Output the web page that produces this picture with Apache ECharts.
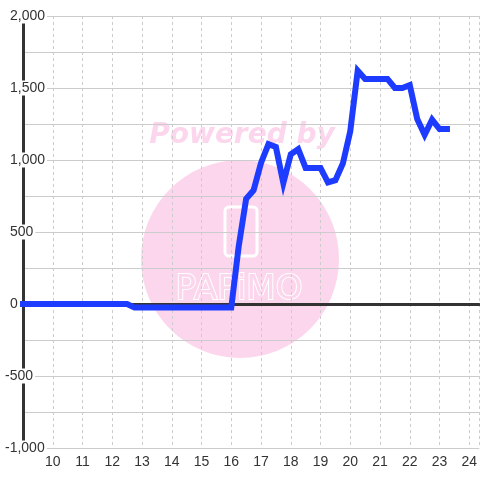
<!DOCTYPE html>
<html>
<head>
<meta charset="utf-8">
<script src="https://cdn.jsdelivr.net/npm/echarts@6/dist/echarts.min.js"></script>
<style>html,body{margin:0;padding:0;background:#fff;}#c{width:480px;height:480px;}</style>
</head>
<body>
<div id="c"></div>
<script>
// Data: one point every 15 minutes from 9:00 to 23:15
var startHour = 9;
var stepHour = 0.25;
var values = [
  0, 0, 0, 0, 0, 0, 0, 0, 0, 0, 0, 0, 0, 0, 0,
  -25, -25, -25, -25, -25, -25, -25, -25, -25, -25, -25, -25, -25, -25,
  400, 730, 790, 980, 1110, 1090, 840, 1040, 1075, 945, 945, 945, 845, 860,
  975, 1200, 1620, 1563, 1563, 1563, 1563, 1500, 1500, 1520, 1285, 1175, 1280, 1215, 1215
];
var xTickLabels = [10, 11, 12, 13, 14, 15, 16, 17, 18, 19, 20, 21, 22, 23, 24];
var yPosLabels = [0, 500, 1000, 1500, 2000];
var yNegLabels = [-500, -1000];

var seriesData = values.map(function (v, i) { return [startHour + i * stepHour, v]; });
function fmt(v) { return Number(v).toLocaleString('en-US'); }

var chart = echarts.init(document.getElementById('c'));
var labelFont = { fontFamily: 'Liberation Sans', fontSize: 14, color: '#333' };
chart.setOption({
  animation: false,
  backgroundColor: '#fff',
  grid: { left: 20, right: 0, top: 16, bottom: 32 },
  xAxis: [
    {
      type: 'value', min: 9, max: 24 + 1 / 3, position: 'bottom', z: 2,
      axisLine: { show: true, onZero: true, lineStyle: { color: '#333', width: 3 } },
      axisTick: { show: false }, axisLabel: { show: false }, splitLine: { show: false }
    },
    {
      type: 'value', min: 9, max: 24 + 1 / 3, interval: 1, position: 'bottom',
      axisLine: { show: false }, axisTick: { show: false },
      axisLabel: Object.assign({ customValues: xTickLabels, margin: 7 }, labelFont),
      splitLine: { show: true, lineStyle: { color: '#ccc', type: [3, 3], width: 1 } }
    }
  ],
  yAxis: [
    {
      type: 'value', min: -1000, max: 2000, interval: 250, position: 'left', z: 1,
      axisLine: { show: true, lineStyle: { color: '#333', width: 3 } },
      axisTick: { show: false },
      axisLabel: Object.assign({
        customValues: yPosLabels, align: 'left', margin: 15, formatter: fmt,
        backgroundColor: '#fff', padding: [0, 2], lineHeight: 15
      }, labelFont),
      splitLine: { show: true, lineStyle: { color: '#ccc', width: 1 } }
    },
    {
      type: 'value', min: -1000, max: 2000, interval: 250, position: 'left', z: 1,
      axisLine: { show: false }, axisTick: { show: false },
      axisLabel: Object.assign({
        customValues: yNegLabels, align: 'left', margin: 20, formatter: fmt,
        backgroundColor: '#fff', padding: [0, 2], lineHeight: 15
      }, labelFont),
      splitLine: { show: false }
    }
  ],
  graphic: [
    { type: 'circle', z: -10, shape: { cx: 240, cy: 259, r: 99 }, style: { fill: '#fcd6ec' }, silent: true },
    { type: 'rect', z: -9, shape: { x: 225, y: 207, width: 32, height: 49, r: 4 }, style: { fill: '#fcd6ec', stroke: '#fff', lineWidth: 3 }, silent: true },
    { type: 'text', z: -9, x: 239, y: 290, style: { text: 'PAPiMO', font: '34px "DejaVu Sans"', fill: '#fcd6ec', stroke: '#fff', lineWidth: 2, align: 'center', verticalAlign: 'middle' }, silent: true },
    { type: 'text', z: -9, x: 242, y: 136, style: { text: 'Powered by', font: 'italic bold 28px "DejaVu Sans"', fill: '#fcd6ec', align: 'center', verticalAlign: 'middle' }, silent: true }
  ],
  series: [
    {
      type: 'line', xAxisIndex: 0, yAxisIndex: 0, z: 3,
      data: seriesData, showSymbol: false, symbol: 'none',
      lineStyle: { color: '#1e3cff', width: 6, cap: 'square', join: 'miter' }
    }
  ]
});
</script>
</body>
</html>
